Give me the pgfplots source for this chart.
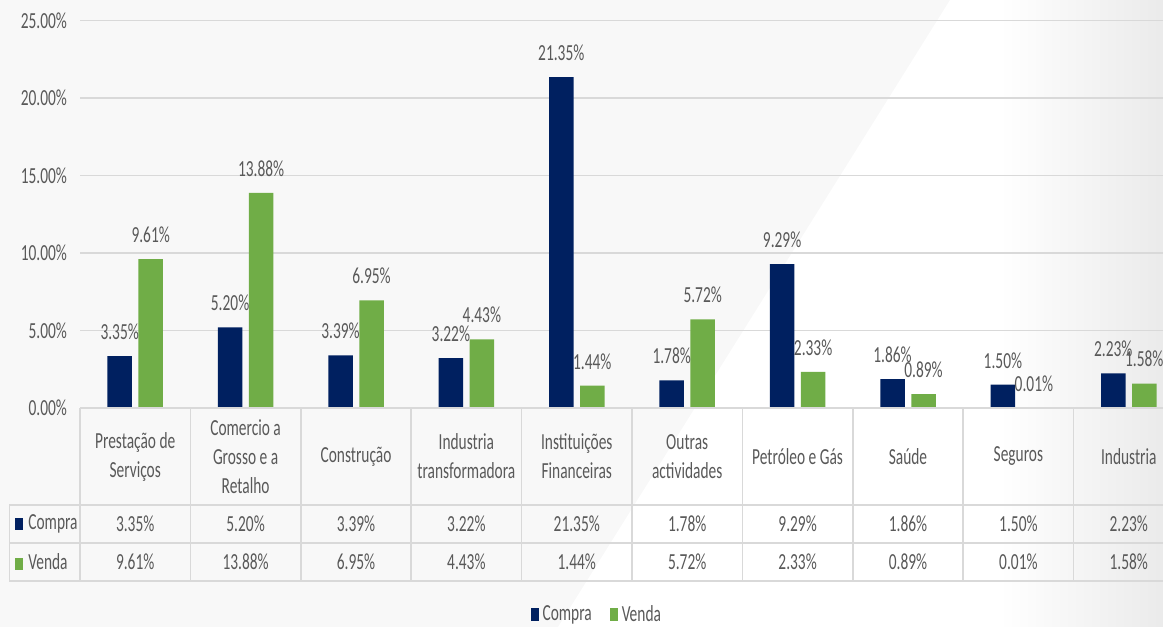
\documentclass[border=0pt]{standalone}
\usepackage{pgfplots}
\pgfplotsset{compat=1.18}
\usepackage{pgfplotstable}
\usepackage{fontspec}
\setmainfont{Carlito}[FakeStretch=0.67]
\definecolor{navy}{HTML}{002060}
\definecolor{grn}{HTML}{70AD47}
\definecolor{txt}{HTML}{595959}
\definecolor{gridc}{HTML}{D9D9D9}
\definecolor{bgc}{HTML}{F8F8F8}
\pgfplotsset{/pgf/number format/assume math mode=true}
\pgfplotstableread{
x compra venda
0 3.35 9.61
1 5.20 13.88
2 3.39 6.95
3 3.22 4.43
4 21.35 1.44
5 1.78 5.72
6 9.29 2.33
7 1.86 0.89
8 1.50 0.01
9 2.23 1.58
}\data
\begin{document}
\fontsize{11.5}{14.5}\selectfont
\begin{tikzpicture}
\useasboundingbox (0,0) rectangle (581.5pt,313.5pt);
\clip (0,0) rectangle (581.5pt,313.5pt);
\fill[bgc] (0,0) rectangle (581.5pt,313.5pt);
\fill[white] (475pt,313.5pt) -- (581.5pt,313.5pt) -- (581.5pt,0) -- (279pt,0) -- cycle;
\shade[left color=white, right color=gray!16] (500pt,0) rectangle (581.5pt,313.5pt);
\begin{axis}[
  at={(40pt,109.5pt)}, anchor=south west,
  scale only axis, width=552pt, height=193.75pt,
  xmin=-0.5, xmax=9.5, ymin=0, ymax=25,
  clip=false,
  axis line style={draw=none},
  major tick length=0pt,
  ytick={0,5,...,25},
  yticklabel={\pgfmathprintnumber[fixed,fixed zerofill,precision=2]{\tick}\%},
  yticklabel style={text=txt, xshift=-2.5pt},
  ymajorgrids, grid style={color=gridc, line width=0.8pt},
  xtick={0,...,9},
  xticklabels={{Prestação de\\Serviços},{Comercio a\\Grosso e a\\Retalho},{Construção},{Industria\\transformadora},{Instituições\\Financeiras},{Outras\\actividades},{Petróleo e Gás},{Saúde},{Seguros},{Industria}},
  xticklabel style={align=center, anchor=center, yshift=-24.25pt, text=txt},
  legend style={at={(0.469,-0.534)}, anchor=center, draw=none, fill=none,
    legend columns=2, text=txt,
    /tikz/every even column/.append style={column sep=7pt}},
]
\addplot[ybar, bar width=12.25pt, bar shift=-7.75pt, fill=navy, draw=none,
  legend image code/.code={\fill[navy] (0pt,-3.25pt) rectangle (4pt,3.25pt);},
  nodes near coords={\pgfmathprintnumber[fixed,fixed zerofill,precision=2]{\pgfplotspointmeta}\%},
  every node near coord/.append style={anchor=south, inner sep=0pt, yshift=8pt, xshift=-7.75pt, text=txt}]
  table[x=x, y=compra]{\data};
\addlegendentry{Compra}
\addplot[ybar, bar width=12.25pt, bar shift=7.75pt, fill=grn, draw=none,
  legend image code/.code={\fill[grn] (0pt,-3.25pt) rectangle (4pt,3.25pt);},
  nodes near coords={\pgfmathprintnumber[fixed,fixed zerofill,precision=2]{\pgfplotspointmeta}\%},
  every node near coord/.append style={anchor=south, inner sep=0pt, yshift=8pt, xshift=7.75pt, text=txt}]
  table[x=x, y=venda]{\data};
\addlegendentry{Venda}
\addplot[forget plot, draw=none, mark=none, point meta=explicit,
  nodes near coords={\pgfmathprintnumber[fixed,fixed zerofill,precision=2]{\pgfplotspointmeta}\%},
  every node near coord/.append style={anchor=center, inner sep=0pt, text=txt}]
  table[x=x, y expr=-7.47, meta=compra]{\data};
\addplot[forget plot, draw=none, mark=none, point meta=explicit,
  nodes near coords={\pgfmathprintnumber[fixed,fixed zerofill,precision=2]{\pgfplotspointmeta}\%},
  every node near coord/.append style={anchor=center, inner sep=0pt, text=txt}]
  table[x=x, y expr=-9.92, meta=venda]{\data};
% table frame
\draw[gridc, line width=0.8pt] (axis cs:-0.5,0) -- (axis cs:9.6,0);
\draw[gridc, line width=0.8pt] (axis cs:-1.14,-6.25) -- (axis cs:9.6,-6.25);
\draw[gridc, line width=0.8pt] (axis cs:-1.14,-8.72) -- (axis cs:9.6,-8.72);
\draw[gridc, line width=0.8pt] (axis cs:-1.14,-11.15) -- (axis cs:9.6,-11.15);
\draw[gridc, line width=0.8pt] (axis cs:-1.14,-6.25) -- (axis cs:-1.14,-11.15);
\pgfplotsinvokeforeach{-0.5,0.5,1.5,2.5,3.5,4.5,5.5,6.5,7.5,8.5,9.5}{
  \draw[gridc, line width=0.8pt] (axis cs:#1,0) -- (axis cs:#1,-11.15);
}
\node[anchor=west, inner sep=0pt, text=txt] at (axis cs:-1.089,-7.47) {\textcolor{navy}{\raisebox{-0.2pt}{\rule{4pt}{6pt}}}\hspace{2.5pt}Compra};
\node[anchor=west, inner sep=0pt, text=txt] at (axis cs:-1.089,-9.92) {\textcolor{grn}{\raisebox{-0.2pt}{\rule{4pt}{6pt}}}\hspace{2.5pt}Venda};
\end{axis}
\end{tikzpicture}
\end{document}
